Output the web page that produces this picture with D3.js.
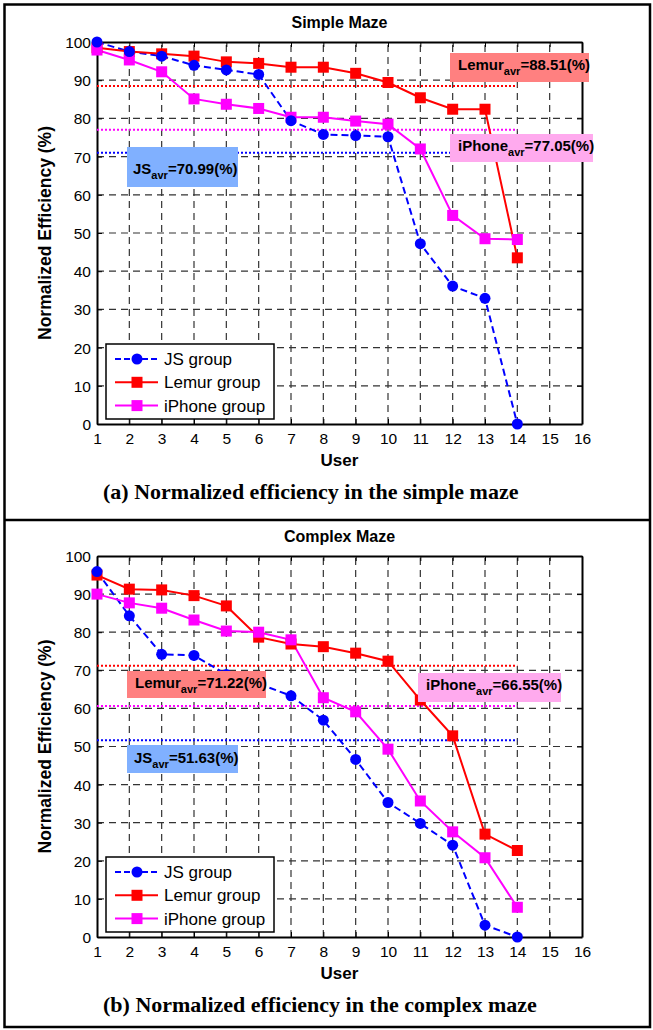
<!DOCTYPE html>
<html><head><meta charset="utf-8">
<script src="https://cdn.jsdelivr.net/npm/d3@7"></script>
<style>body{margin:0;background:#fff}svg{display:block}</style>
</head><body><svg id="c" width="653" height="1030"></svg>
<script>
// ---------- data ----------
const users = [1,2,3,4,5,6,7,8,9,10,11,12,13,14];
const xTickValues = [1,2,3,4,5,6,7,8,9,10,11,12,13,14,15,16];
const yTickValues = [0,10,20,30,40,50,60,70,80,90,100];
const seriesNames = ["JS group","Lemur group","iPhone group"];
const avgPrefixes = ["JS","Lemur","iPhone"];

const simpleJS     = [100,97.5,96.3,93.9,92.7,91.5,79.4,75.8,75.5,75.2,47.2,36.1,32.9,0];
const simpleLemur  = [98.5,97.5,96.9,96.3,94.8,94.4,93.4,93.4,91.8,89.4,85.4,82.4,82.4,43.5];
const simpleIPhone = [97.9,95.3,92.2,85.1,83.7,82.6,80.3,80.3,79.3,78.5,72.0,54.6,48.5,48.3];
const simpleAvgLine = [70.99,88.51,77.05];
const simpleAvgText = ["70.99","88.51","77.05"];

const complexJS     = [95.9,84.3,74.2,73.9,68.9,66.5,63.3,56.9,46.6,35.3,29.8,24.1,3.1,0];
const complexLemur  = [95.0,91.3,91.1,89.6,86.9,78.7,76.9,76.2,74.5,72.4,62.2,52.8,27.0,22.7];
const complexIPhone = [90.0,87.7,86.3,83.2,80.3,80.0,78.0,62.8,59.1,49.3,35.7,27.6,20.8,7.8];
const complexAvgLine = [51.63,71.22,60.6];
const complexAvgText = ["51.63","71.22","66.55"];

// ---------- styles ----------
const colors = ["#0000ff","#ff0000","#ff00ff"];
const boxColors = ["#80b0ff","#ff8080","#ffaaee"];
const FONT = "'Liberation Sans', Arial, Helvetica, sans-serif";
const SERIF = "'Liberation Serif', 'Times New Roman', serif";

const svg = d3.select("#c");

// outer frame + separator
svg.append("rect").attr("x",4.5).attr("y",4.5).attr("width",645.5).attr("height",1022.5)
  .attr("fill","none").attr("stroke","#000").attr("stroke-width",2.5);
svg.append("line").attr("x1",4.5).attr("x2",650).attr("y1",520).attr("y2",520)
  .attr("stroke","#000").attr("stroke-width",2.5);

function drawPanel(cfg) {
  const g = svg.append("g");
  const x = d3.scaleLinear().domain([1,16]).range([97,582]);
  const y = d3.scaleLinear().domain([0,100]).range([cfg.bottom, cfg.top]);

  // grid
  g.append("g").selectAll("line").data(xTickValues.slice(1,-1)).join("line")
    .attr("x1",d=>x(d)).attr("x2",d=>x(d)).attr("y1",y(0)).attr("y2",y(100))
    .attr("stroke","#333").attr("stroke-width",1.2).attr("stroke-dasharray","7,5");
  g.append("g").selectAll("line").data(yTickValues.slice(1,-1)).join("line")
    .attr("x1",x(1)).attr("x2",x(16)).attr("y1",d=>y(d)).attr("y2",d=>y(d))
    .attr("stroke","#333").attr("stroke-width",1.2).attr("stroke-dasharray","7,5");

  // axes (inside ticks)
  const axB = g.append("g").attr("transform",`translate(0,${y(0)})`)
    .call(d3.axisBottom(x).tickValues(xTickValues).tickSizeInner(-5).tickSizeOuter(0).tickPadding(9));
  const axT = g.append("g").attr("transform",`translate(0,${y(100)})`)
    .call(d3.axisTop(x).tickValues(xTickValues).tickSizeInner(-5).tickSizeOuter(0).tickFormat(""));
  const axL = g.append("g").attr("transform",`translate(${x(1)},0)`)
    .call(d3.axisLeft(y).tickValues(yTickValues).tickSizeInner(-5).tickSizeOuter(0).tickPadding(6));
  const axR = g.append("g").attr("transform",`translate(${x(16)},0)`)
    .call(d3.axisRight(y).tickValues(yTickValues).tickSizeInner(-5).tickSizeOuter(0).tickFormat(""));
  [axB,axT,axL,axR].forEach(a=>{
    a.select(".domain").attr("stroke","#000").attr("stroke-width",2);
    a.selectAll(".tick line").attr("stroke","#000").attr("stroke-width",1);
    a.selectAll("text").attr("font-family",FONT).attr("font-size",15.5).attr("fill","#000");
  });
  axB.selectAll("text").attr("dy","0.71em");
  axL.selectAll("text").attr("dy","0.35em");

  // average lines
  cfg.avgLine.forEach((v,i)=>{
    g.append("line").attr("x1",x(1)).attr("x2",x(14)).attr("y1",y(v)).attr("y2",y(v))
      .attr("stroke",colors[i]).attr("stroke-width",2).attr("stroke-dasharray","2,2");
  });

  // series
  const line = d3.line().x((d,i)=>x(users[i])).y(d=>y(d));
  cfg.series.forEach((vals,i)=>{
    g.append("path").datum(vals).attr("d",line).attr("fill","none")
      .attr("stroke",colors[i]).attr("stroke-width",2)
      .attr("stroke-dasharray", i===0 ? "7,4" : null);
  });
  [1,2,0].forEach(i=>{
    const vals = cfg.series[i];
    if (i===0) {
      g.append("g").selectAll("circle").data(vals).join("circle")
        .attr("cx",(d,k)=>x(users[k])).attr("cy",d=>y(d)).attr("r",5.5).attr("fill",colors[0]);
    } else {
      g.append("g").selectAll("rect").data(vals).join("rect")
        .attr("x",(d,k)=>x(users[k])-5.5).attr("y",d=>y(d)-5.5).attr("width",11).attr("height",11)
        .attr("fill",colors[i]);
    }
  });

  // annotation boxes
  cfg.boxes.forEach((b,i)=>{
    g.append("rect").attr("x",b.x).attr("y",b.y).attr("width",b.w).attr("height",b.h).attr("fill",boxColors[i]);
    const t = g.append("text").attr("x",b.x+b.tx).attr("y",b.y+b.ty)
      .attr("font-family",FONT).attr("font-weight","bold").attr("font-size",15).attr("fill","#000");
    t.append("tspan").text(avgPrefixes[i]);
    t.append("tspan").attr("font-size",11).attr("dy",5).text("avr");
    t.append("tspan").attr("dy",-5).text("=" + cfg.avgText[i] + "(%)");
  });

  // legend
  const lg = g.append("g");
  lg.append("rect").attr("x",106).attr("y",cfg.legendY).attr("width",168).attr("height",75)
    .attr("fill","#fff").attr("stroke","#000").attr("stroke-width",1.5);
  seriesNames.forEach((n,i)=>{
    const ly = cfg.legendY + 15 + i*23.3;
    lg.append("line").attr("x1",115).attr("x2",158).attr("y1",ly).attr("y2",ly)
      .attr("stroke",colors[i]).attr("stroke-width",2).attr("stroke-dasharray", i===0?"6,3":null);
    if (i===0) lg.append("circle").attr("cx",137).attr("cy",ly).attr("r",5.5).attr("fill",colors[i]);
    else lg.append("rect").attr("x",131.5).attr("y",ly-5.5).attr("width",11).attr("height",11).attr("fill",colors[i]);
    lg.append("text").attr("x",164).attr("y",ly).attr("dy","0.35em").attr("font-family",FONT)
      .attr("font-size",17).text(n);
  });

  // titles
  g.append("text").attr("x",339.5).attr("y",cfg.top-14).attr("text-anchor","middle")
    .attr("font-family",FONT).attr("font-weight","bold").attr("font-size",16).text(cfg.title);
  g.append("text").attr("x",339.5).attr("y",cfg.bottom+42).attr("text-anchor","middle")
    .attr("font-family",FONT).attr("font-weight","bold").attr("font-size",17).text("User");
  g.append("text").attr("transform",`translate(45,${(cfg.top+cfg.bottom)/2}) rotate(-90)`)
    .attr("text-anchor","middle").attr("dy","0.35em")
    .attr("font-family",FONT).attr("font-weight","bold").attr("font-size",17.5)
    .text("Normalized Efficiency (%)");
  g.append("text").attr("x",103).attr("y",cfg.bottom+75)
    .attr("font-family",SERIF).attr("font-weight","bold").attr("font-size",22).text(cfg.caption);
}

drawPanel({
  top:42, bottom:424, title:"Simple Maze",
  caption:"(a) Normalized efficiency in the simple maze",
  series:[simpleJS, simpleLemur, simpleIPhone],
  avgLine:simpleAvgLine, avgText:simpleAvgText,
  legendY:344,
  boxes:[
    {x:127,y:147,w:111,h:40,tx:6,ty:27},
    {x:450,y:53,w:139,h:29,tx:8,ty:17},
    {x:450,y:134,w:143,h:28,tx:8,ty:17}
  ]
});
drawPanel({
  top:556, bottom:937, title:"Complex Maze",
  caption:"(b) Normalized efficiency in the complex maze",
  series:[complexJS, complexLemur, complexIPhone],
  avgLine:complexAvgLine, avgText:complexAvgText,
  legendY:857,
  boxes:[
    {x:127,y:745,w:111,h:28,tx:7,ty:17.5},
    {x:127,y:671,w:139,h:27,tx:8,ty:17},
    {x:418,y:673,w:143,h:29,tx:8,ty:16.5}
  ]
});
</script>
</body></html>
